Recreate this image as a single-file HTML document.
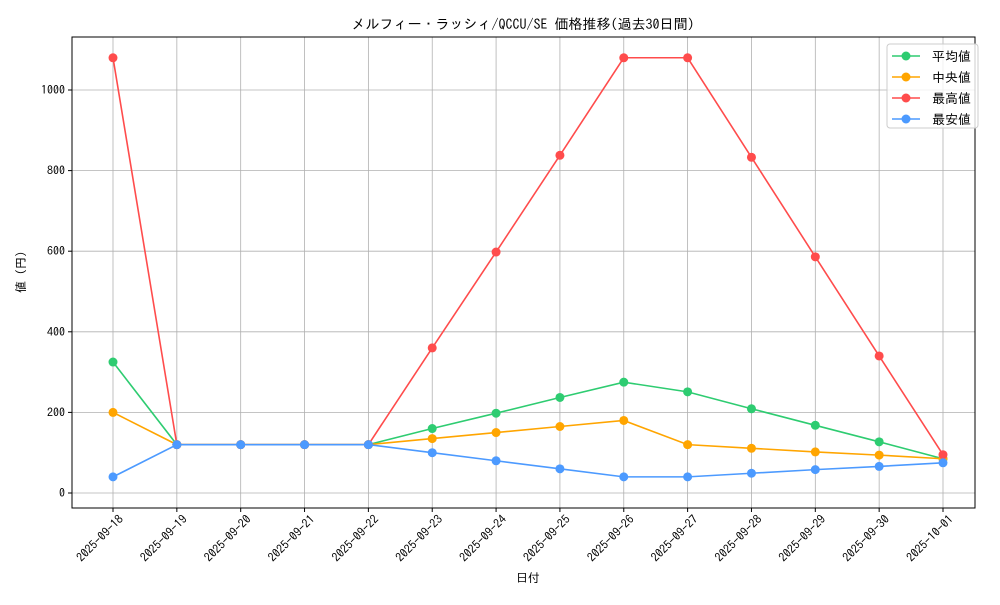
<!DOCTYPE html>
<html><head><meta charset="utf-8"><style>
body{margin:0;background:#fff}
text{font-family:"IPAGothic","Liberation Sans","Noto Sans CJK JP",sans-serif;fill:#000}
</style></head><body>
<svg id="c" width="1000" height="600"></svg>
<script>
const categories=["2025-09-18","2025-09-19","2025-09-20","2025-09-21","2025-09-22","2025-09-23","2025-09-24","2025-09-25","2025-09-26","2025-09-27","2025-09-28","2025-09-29","2025-09-30","2025-10-01"];
const avgValues=[325,120,120,120,120,160,198,237,275,251,209,168,127,85];
const medianValues=[200,120,120,120,120,135,150,165,180,120,111,102,94,85];
const maxValues=[1080,120,120,120,120,360,598,838,1080,1080,833,586,340,95];
const minValues=[40,120,120,120,120,100,80,60,40,40,49,58,66,75];
const yTicks=[0,200,400,600,800,1000];
const seriesNames=["平均値","中央値","最高値","最安値"];
const seriesColors=["#2ecc71","#ffa500","#ff4c4c","#4c9aff"];
const NS="http://www.w3.org/2000/svg";
const svg=document.getElementById('c');
const L=72,R=975,T=37,B=508;
const x=i=>113+i*(943-113)/(categories.length-1);
const y=v=>493-v*0.403;
function mk(t,a,p){const e=document.createElementNS(NS,t);for(const k in a)e.setAttribute(k,a[k]);(p||svg).appendChild(e);return e;}
categories.forEach((c,i)=>{const g=mk('line',{x1:x(i),x2:x(i),y1:T,y2:B,stroke:'#b0b0b0','stroke-width':0.8});

});
yTicks.forEach(v=>{const g=mk('line',{x1:L,x2:R,y1:y(v),y2:y(v),stroke:'#b0b0b0','stroke-width':0.8});

});
const frame=mk('rect',{x:L,y:T,width:R-L,height:B-T,fill:'none',stroke:'#000','stroke-width':1});


yTicks.forEach(v=>{mk('line',{x1:L-4,x2:L,y1:y(v),y2:y(v),stroke:'#000'});
const t=mk('text',{x:L-7,y:y(v)+4,'text-anchor':'end','font-size':12});t.textContent=v;

});
categories.forEach((c,i)=>{mk('line',{x1:x(i),x2:x(i),y1:B,y2:B+4,stroke:'#000'});
const ax=x(i)+11,ay=B+12;
const t=mk('text',{x:ax,y:ay,'text-anchor':'end','font-size':12,transform:`rotate(-45 ${ax} ${ay})`});t.textContent=c;

});
[avgValues,medianValues,maxValues,minValues].forEach((vals,s)=>{
const g=mk('g',{});


mk('polyline',{points:vals.map((v,i)=>x(i)+','+y(v)).join(' '),fill:'none',stroke:seriesColors[s],'stroke-width':1.6},g);
vals.forEach((v,i)=>{const p=mk('circle',{cx:x(i),cy:y(v),r:4.5,fill:seriesColors[s]},g);

});
});
const tt=mk('text',{x:523,y:29,'text-anchor':'middle','font-size':14});tt.textContent="メルフィー・ラッシィ/QCCU/SE 価格推移(過去30日間)";


const xt=mk('text',{x:528,y:582,'text-anchor':'middle','font-size':12});xt.textContent="日付";


const yt=mk('text',{x:25,y:272,'text-anchor':'middle','font-size':12,transform:'rotate(-90 25 272)'});yt.textContent="値 (円)";


const lg=mk('g',{});


mk('rect',{x:887,y:44,width:91,height:84,rx:3,fill:'#fff',stroke:'#ccc','fill-opacity':0.8},lg);
seriesNames.forEach((n,s)=>{const yy=56+s*21;
const e=mk('g',{},lg);


mk('line',{x1:892,x2:920,y1:yy,y2:yy,stroke:seriesColors[s],'stroke-width':1.6},e);
mk('circle',{cx:906,cy:yy,r:4.5,fill:seriesColors[s]},e);
const t=mk('text',{x:932,y:yy+5,'font-size':13},e);t.textContent=n;});
</script>
</body></html>
